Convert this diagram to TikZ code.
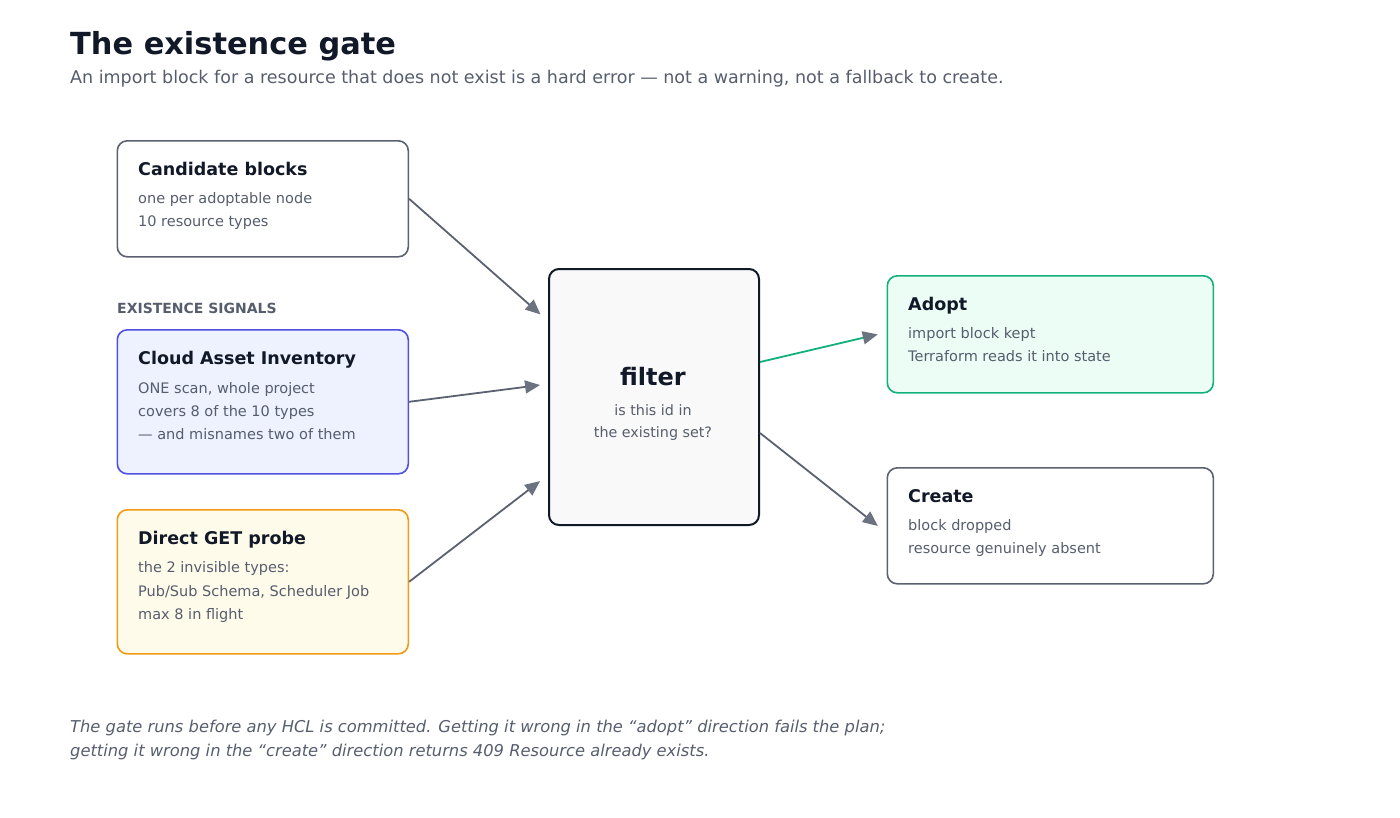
\documentclass[tikz,border=0pt]{standalone}
\usepackage{fontspec}
\setmainfont{DejaVu Sans}
\usetikzlibrary{arrows.meta,positioning}
\definecolor{ink}{HTML}{111827}
\definecolor{muted}{HTML}{565D6D}
\definecolor{edge}{HTML}{5B6170}
\definecolor{tipgray}{HTML}{6B7280}
\definecolor{casline}{HTML}{5250E0}
\definecolor{casfill}{HTML}{EEF2FF}
\definecolor{getline}{HTML}{F29A12}
\definecolor{getfill}{HTML}{FFFBEB}
\definecolor{okline}{HTML}{12B07A}
\definecolor{okfill}{HTML}{ECFDF5}
\definecolor{gatefill}{HTML}{F9F9FA}

\begin{document}
\begin{tikzpicture}[x=1pt,y=-1pt,
    box/.style={draw=edge,line width=1.6pt,rounded corners=10pt,fill=white,
      minimum width=291pt,minimum height=116pt,inner sep=0pt,anchor=north west},
    boxtitle/.style={anchor=base west,inner sep=0pt,text=ink,font=\fontsize{17.5}{20}\selectfont\bfseries},
    boxline/.style={anchor=base west,inner sep=0pt,text=muted,font=\fontsize{14.5}{17}\selectfont},
    link/.style={draw=edge,line width=1.8pt,
      -{Triangle[length=15pt,width=13pt,color=tipgray]},shorten >=9pt}]
  \useasboundingbox (0,0) rectangle (1400,817);

  % heading
  \node[anchor=base west,inner sep=0pt,text=ink,font=\fontsize{30.4}{34}\selectfont\bfseries]
    (head) at (70,54) {The existence gate};
  \node[anchor=base west,inner sep=0pt,text=muted,font=\fontsize{17.5}{20}\selectfont]
    (sub) at (70,83) {An import block for a resource that does not exist is a hard error — not a warning, not a fallback to create.};

  % inputs
  \node[box] (cand) at (116.5,140) {};
  \node[boxtitle] (candT) at ([shift={(21.5,35)}]cand.north west) {Candidate blocks};
  \node[boxline] at ([shift={(21.5,63)}]cand.north west) {one per adoptable node};
  \node[boxline] at ([shift={(21.5,86)}]cand.north west) {10 resource types};

  \node[anchor=base west,inner sep=0pt,text=muted,font=\fontsize{14}{17}\selectfont\bfseries]
    (signals) at (117,313) {EXISTENCE SIGNALS};

  \node[box,draw=casline,fill=casfill,minimum height=144pt] (cai) at (116.5,329) {};
  \node[boxtitle] at ([shift={(21.5,35)}]cai.north west) {Cloud Asset Inventory};
  \node[boxline] at ([shift={(21.5,64)}]cai.north west) {ONE scan, whole project};
  \node[boxline] at ([shift={(21.5,87)}]cai.north west) {covers 8 of the 10 types};
  \node[boxline] at ([shift={(21.5,110)}]cai.north west) {— and misnames two of them};

  \node[box,draw=getline,fill=getfill,minimum height=144pt] (probe) at (116.5,509) {};
  \node[boxtitle] at ([shift={(21.5,35)}]probe.north west) {Direct GET probe};
  \node[boxline] at ([shift={(21.5,63)}]probe.north west) {the 2 invisible types:};
  \node[boxline] at ([shift={(21.5,87)}]probe.north west) {Pub/Sub Schema, Scheduler Job};
  \node[boxline] at ([shift={(21.5,110)}]probe.north west) {max 8 in flight};

  % the gate
  \node[box,draw=ink,fill=gatefill,line width=2pt,minimum width=210pt,minimum height=256pt] (gate) at (548,268) {};
  \node[anchor=base,inner sep=0pt,text=ink,font=\fontsize{24}{28}\selectfont\bfseries] at (653,385) {filter};
  \node[anchor=base,inner sep=0pt,text=muted,font=\fontsize{14.3}{17}\selectfont] at (653,415) {is this id in};
  \node[anchor=base,inner sep=0pt,text=muted,font=\fontsize{14.3}{17}\selectfont] at (653,437) {the existing set?};

  % outcomes
  \node[box,draw=okline,fill=okfill,minimum width=326pt,minimum height=117pt] (adopt) at (886.5,275) {};
  \node[boxtitle] at ([shift={(21.5,35)}]adopt.north west) {Adopt};
  \node[boxline] at ([shift={(21.5,63)}]adopt.north west) {import block kept};
  \node[boxline] at ([shift={(21.5,86)}]adopt.north west) {Terraform reads it into state};

  \node[box,minimum width=326pt,minimum height=116pt] (create) at (886.5,467) {};
  \node[boxtitle] at ([shift={(21.5,35)}]create.north west) {Create};
  \node[boxline] at ([shift={(21.5,63)}]create.north west) {block dropped};
  \node[boxline] at ([shift={(21.5,86)}]create.north west) {resource genuinely absent};

  % connectors
  \draw[link,shorten >=10pt] (cand.east) -- ([yshift=76pt]gate.west);
  \draw[link,shorten >=8pt] (cai.east) -- ([yshift=13pt]gate.west);
  \draw[link,shorten >=10pt] (probe.east) -- ([yshift=-78pt]gate.west);
  \draw[link,draw=okline] ([yshift=35pt]gate.east) -- ([yshift=2pt]adopt.west);
  \draw[link,shorten >=11pt] ([yshift=-36pt]gate.east) -- ([yshift=-7pt]create.west);

  % footnote
  \node[anchor=base west,inner sep=0pt,text=muted,font=\fontsize{16.3}{20}\selectfont\itshape]
    (note1) at (70,732) {The gate runs before any HCL is committed. Getting it wrong in the “adopt” direction fails the plan;};
  \node[anchor=base west,inner sep=0pt,text=muted,font=\fontsize{16.3}{20}\selectfont\itshape]
    (note2) at (70,756) {getting it wrong in the “create” direction returns 409 Resource already exists.};
\end{tikzpicture}
\end{document}
